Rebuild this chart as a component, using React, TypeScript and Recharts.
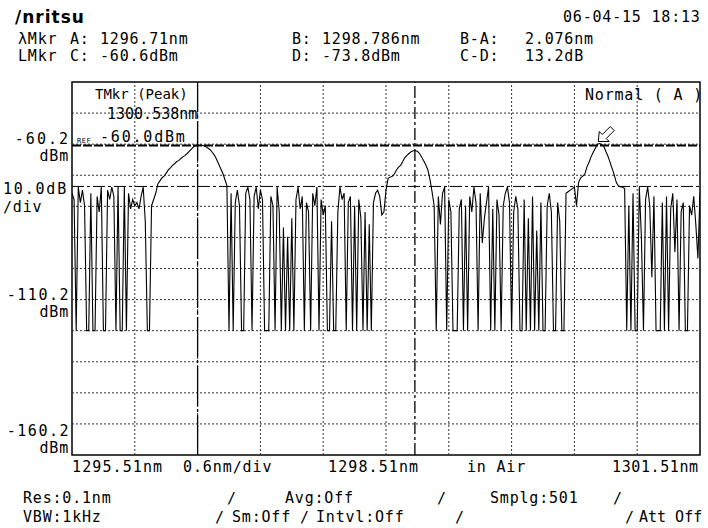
import React from "react";
import {
  LineChart, Line, XAxis, YAxis,
  ReferenceLine, ReferenceArea, ReferenceDot,
} from "recharts";

// sweep settings (1295.51 .. 1301.51 nm, 0.02 nm per sample)
const START_NM = 1295.51;
const STEP_NM = 0.02;

// trace level in dBm
const TRACE_DBM = [
  -76, -78, -120.2, -74, -79, -75, -80, -120.2, -120.2, -76, -120.2, -120.2, -77, -82, -74, -120.2, -120.2, -75, -78, -74,
  -77, -120.2, -74, -120.2, -120.2, -74, -120.2, -76, -81, -78, -80, -79, -81, -77, -74, -85, -120.2, -120.2, -80,
  -78, -76, -73, -72, -71, -70.5, -69.5, -68.5, -67.8, -67, -66.5, -65.8, -65.5, -64.8, -64.3, -63.8, -63.2, -62.5,
  -61.8, -61.1, -60.7, -60.6, -60.6, -60.6, -60.7, -61.0, -61.5, -62.0, -62.8, -63.7, -65.0, -66.5, -68.0, -69.5, -71.5, -73.5,
  -120.2, -76, -120.2, -79, -75, -80, -120.2, -120.2, -76, -74, -78, -120.2, -77, -74, -81, -75, -78, -120.2, -120.2, -120.2,
  -77, -80, -120.2, -74, -82, -120.2, -87, -120.2, -90, -120.2, -84, -120.2, -78, -74, -81, -77, -120.2, -79, -82, -120.2,
  -76, -80, -74, -120.2, -78, -83, -80, -120.2, -120.2, -85, -120.2, -120.2, -82, -74, -78, -76, -120.2, -79, -77, -120.2,
  -80, -120.2, -78, -84, -120.2, -82, -120.2, -86, -120.2, -79, -76, -75, -77, -83, -82, -75,
  -71.2, -70.8, -70.5, -69.8, -68.5, -67.6, -67.0, -65.8, -64.5, -63.8, -63.2, -62.6, -62.3, -62.3, -62.5, -63.2, -64.3,
  -65.5, -66.8, -68.5, -71.5, -75.5, -80,
  -120.2, -77, -86, -76, -74, -120.2, -78, -82, -120.2, -120.2, -120.2, -81, -78, -120.2, -80, -120.2, -77, -82, -74, -79,
  -120.2, -76, -92, -84, -79, -74, -120.2, -81, -120.2, -78, -83, -120.2, -80, -76, -74, -79, -120.2, -82, -77, -81,
  -120.2, -120.2, -78, -120.2, -84, -120.2, -77, -120.2, -88, -120.2, -79, -120.2, -120.2, -80, -76, -82, -120.2, -120.2,
  -79, -85, -120.2, -120.2, -76,
  -75.5, -75, -74.5, -74, -80, -72.5, -71, -70.5, -69.8, -67.5, -66, -64.2, -62.8, -61.5, -60.2, -60.0, -60.3, -60.8,
  -62.5, -64, -66, -68, -70, -72.5, -73.6, -74, -74, -74.5,
  -120.2, -80, -120.2, -76, -120.2, -120.2, -74, -90, -120.2, -78, -74, -80, -103, -77, -120.2, -120.2, -120.2, -79,
  -120.2, -77, -120.2, -81, -76, -95, -78, -120.2, -82, -79, -120.2, -120.2, -80, -83, -77, -86, -97, -76,
];

const X_MIN = 1295.51;
const X_MAX = 1301.51;
const Y_MIN = -160.2;
const Y_MAX = -40.2;
const X_GRID = [1296.11, 1296.71, 1297.31, 1297.91, 1298.51, 1299.11, 1299.71, 1300.31, 1300.91];
const Y_GRID = [-150.2, -140.2, -130.2, -120.2, -110.2, -100.2, -90.2, -80.2, -70.2, -60.2, -50.2];

// markers
const MKR_A = 1296.71;
const MKR_B = 1298.786;
const MKR_C = -60.6;
const MKR_D = -73.8;
const PEAK_NM = 1300.538;
const PEAK_DBM = -60.0;

const data = TRACE_DBM.map((v, i) => ({ nm: START_NM + i * STEP_NM, dbm: v }));

const MONO = '"DejaVu Sans Mono", monospace';

function T({ x, y, children, right, size = 15, bold, ls = 0.8, font = MONO }: any) {
  const style: any = {
    position: "absolute",
    top: y - 2,
    fontSize: size,
    lineHeight: `${size}px`,
    letterSpacing: ls,
    whiteSpace: "pre",
    fontWeight: bold ? 700 : 400,
    fontFamily: font,
  };
  if (right) { style.left = 0; style.width = x; style.textAlign = "right"; }
  else style.left = x;
  return <div style={style}>{children}</div>;
}

const Arrow = (p: any) => {
  const x = p.cx, y = p.cy - 2;
  const pts = [
    [0, 0], [1, -10], [4, -7], [12, -15], [16, -11], [8, -3], [11, 0],
  ].map(([dx, dy]) => `${x + dx},${y + dy}`).join(" ");
  return <polygon points={pts} fill="#fff" stroke="#000" strokeWidth={1} />;
};

export default function App() {
  return (
    <div style={{ position: "absolute", left: 0, top: 0, width: 708, height: 528, background: "#fff", color: "#000", overflow: "hidden" }}>
      <LineChart width={708} height={528} data={data} margin={{ top: 82, right: 8, bottom: 73, left: 72 }}>
        <XAxis dataKey="nm" type="number" domain={[X_MIN, X_MAX]} tick={false} axisLine={false} tickLine={false} height={0} allowDataOverflow />
        <YAxis type="number" domain={[Y_MIN, Y_MAX]} tick={false} axisLine={false} tickLine={false} width={0} allowDataOverflow />
        {X_GRID.map((v) => (
          <ReferenceLine key={"gx" + v} x={v} stroke="#333" strokeWidth={1} strokeDasharray="2 2" />
        ))}
        {Y_GRID.map((v) => (
          <ReferenceLine key={"gy" + v} y={v} stroke="#333" strokeWidth={1} strokeDasharray="2 2" />
        ))}
        <ReferenceLine y={MKR_C} stroke="#000" strokeWidth={2} strokeDasharray="9 2" />
        <ReferenceLine y={MKR_D} stroke="#000" strokeWidth={1} strokeDasharray="12 3 3 3" />
        <ReferenceLine x={MKR_A} stroke="#000" strokeWidth={1.3} strokeDasharray="40 3 3 3" />
        <ReferenceLine x={MKR_B} stroke="#000" strokeWidth={1.3} strokeDasharray="12 3 3 3" />
        <Line type="linear" dataKey="dbm" stroke="#000" strokeWidth={1.1} dot={false} isAnimationActive={false} />
        <ReferenceDot x={PEAK_NM} y={PEAK_DBM} r={0} shape={Arrow} />
        <ReferenceArea x1={X_MIN} x2={X_MAX} y1={Y_MIN} y2={Y_MAX} fill="none" stroke="#000" strokeWidth={1.5} />
      </LineChart>

      {/* header */}
      <T x={15} y={11} size={17} bold ls={1} font='"DejaVu Sans", sans-serif'>/nritsu</T>
      <T x={563} y={12}>06-04-15 18:13</T>
      <T x={18} y={34}>λMkr</T>
      <T x={70} y={34}>A:</T>
      <T x={100} y={34}>1296.71nm</T>
      <T x={292} y={34}>B:</T>
      <T x={322} y={34}>1298.786nm</T>
      <T x={460} y={34}>B-A:</T>
      <T x={525} y={34}>2.076nm</T>
      <T x={18} y={51}>LMkr</T>
      <T x={70} y={51}>C:</T>
      <T x={100} y={51}>-60.6dBm</T>
      <T x={292} y={51}>D:</T>
      <T x={322} y={51}>-73.8dBm</T>
      <T x={460} y={51}>C-D:</T>
      <T x={525} y={51}>13.2dB</T>

      {/* inside plot */}
      <T x={95} y={89} size={14} ls={0}>TMkr (Peak)</T>
      <T x={107} y={109} ls={0}>1300.538nm</T>
      <T x={77} y={140} size={7} ls={0.5}>REF</T>
      <T x={100} y={132} ls={1.8}>-60.0dBm</T>
      <T x={585} y={90}>Normal ( A )</T>

      {/* y labels */}
      <T x={70} y={134} right ls={2}>-60.2</T>
      <T x={69} y={151} right>dBm</T>
      <T x={3} y={184} ls={1.8}>10.0dB</T>
      <T x={3} y={202}>∕div</T>
      <T x={70} y={290} right ls={1.5}>-110.2</T>
      <T x={69} y={307} right>dBm</T>
      <T x={70} y={426} right ls={1.5}>-160.2</T>
      <T x={69} y={443} right>dBm</T>

      {/* x labels */}
      <T x={72} y={462} ls={1.1}>1295.51nm</T>
      <T x={183} y={462} ls={0.9}>0.6nm∕div</T>
      <T x={328} y={462} ls={1.1}>1298.51nm</T>
      <T x={467} y={462}>in Air</T>
      <T x={612} y={462} ls={0.6}>1301.51nm</T>

      {/* settings */}
      <T x={23} y={493}>Res:0.1nm</T>
      <T x={227} y={493}>∕</T>
      <T x={285} y={493}>Avg:Off</T>
      <T x={437} y={493}>∕</T>
      <T x={490} y={493}>Smplg:501</T>
      <T x={613} y={493}>∕</T>
      <T x={23} y={512}>VBW:1kHz</T>
      <T x={215} y={512}>∕</T>
      <T x={232} y={512}>Sm:Off</T>
      <T x={300} y={512}>∕</T>
      <T x={316} y={512}>Intvl:Off</T>
      <T x={455} y={512}>∕</T>
      <T x={625} y={512}>∕</T>
      <T x={639} y={512} ls={0}>Att Off</T>
    </div>
  );
}
